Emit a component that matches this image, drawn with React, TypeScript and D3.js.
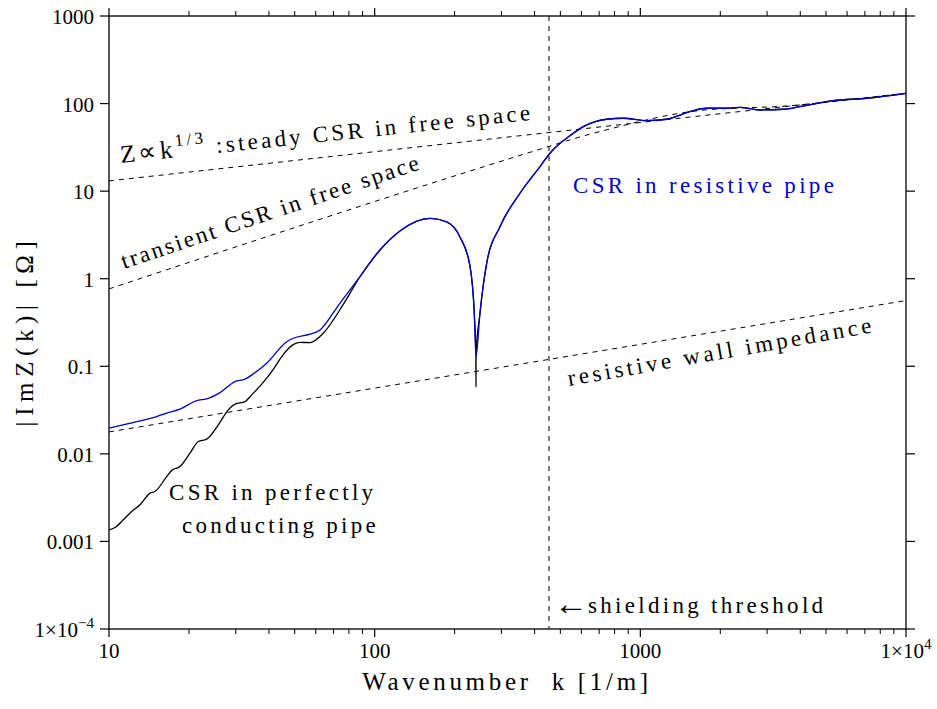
import React from "react";
import * as d3 from "d3";

const W = 937;
const H = 709;

// axes
const xDomain = [10, 10000];
const yDomain = [1e-4, 1000];
const xMajorTicks = [10, 100, 1000, 10000];
const xTickLabels = ["10", "100", "1000", "1×10|4"];
const yMajorTicks = [1e-4, 1e-3, 1e-2, 0.1, 1, 10, 100, 1000];
const yTickLabels = ["1×10|−4", "0.001", "0.01", "0.1", "1", "10", "100", "1000"];

// CSR in resistive pipe (blue)
const blueK = [10, 12.31, 15.12, 16.49, 18.5, 21.38, 23.32, 26.17, 29.81, 32.5, 34.93, 39.23, 46.65, 49.39, 57.07, 62.25, 69.68, 74.04, 88.05, 104.7, 124.5, 161.6, 186.6, 209.4, 228.4, 237.1, 240.6, 249.1, 264.0, 296.2, 352.3, 419.0, 456.9, 498.3, 528.0, 609.7, 746.8, 862.1, 1056, 1256, 1537, 1776, 2112, 2371, 2819, 3450, 3987, 5321, 7108, 10000];
const blueZ = [0.0197, 0.0228, 0.0267, 0.0292, 0.0324, 0.0406, 0.0425, 0.0501, 0.0669, 0.0712, 0.0819, 0.1085, 0.191, 0.209, 0.233, 0.26, 0.404, 0.525, 1.057, 2.13, 3.51, 4.88, 4.45, 3.0, 1.4, 0.404, 0.129, 0.404, 1.5, 3.93, 9.46, 19.05, 27.1, 35.2, 40.2, 54.5, 66.2, 68.0, 63.8, 66.2, 80.8, 88.4, 88.4, 90.7, 84.5, 86.1, 92.2, 107.9, 114.9, 131];

// CSR in perfectly conducting pipe (black)
const blackK = [10, 10.53, 11.32, 12.17, 13.08, 14.27, 14.9, 16.49, 17.22, 18.5, 20.18, 21.68, 23.32, 25.79, 28.12, 29.81, 32.5, 34.44, 37.65, 41.42, 45.17, 48.83, 52.34, 57.07, 64.06, 76.17, 88.05, 104.7, 124.5, 161.6, 186.6, 209.4, 228.4, 237.1, 240.4, 240.6, 240.8, 249.1, 264.0, 296.2, 352.3, 419.0, 456.9, 498.3, 528.0, 609.7, 746.8, 862.1, 1056, 1256, 1537, 1776, 2112, 2371, 2819, 3450, 3987, 5321, 7108, 10000];
const blackZ = [0.001356, 0.001441, 0.001765, 0.002195, 0.002617, 0.003558, 0.003711, 0.005507, 0.006448, 0.007161, 0.01019, 0.01382, 0.01472, 0.02144, 0.03178, 0.03693, 0.03954, 0.04716, 0.06297, 0.09097, 0.1349, 0.1732, 0.1874, 0.1865, 0.2387, 0.5087, 1.057, 2.13, 3.51, 4.88, 4.45, 3.0, 1.4, 0.404, 0.135, 0.0587, 0.135, 0.404, 1.5, 3.93, 9.46, 19.05, 27.1, 35.2, 40.2, 54.5, 66.2, 68.0, 63.8, 66.2, 80.8, 88.4, 88.4, 90.7, 84.5, 86.1, 92.2, 107.9, 114.9, 131];

// reference lines (dashed)
const steadyK = [10, 10000];
const steadyZ = [13.1, 131];
const transientK = [10, 452.9, 592.5, 768.6, 996.6, 1292, 1676, 2371, 3353, 4742, 6707, 10000];
const transientZ = [0.765, 32.4, 41.6, 51.3, 62.5, 74.1, 83.4, 89.1, 92.7, 101.6, 114.3, 131];
const wallK = [10, 10000];
const wallZ = [0.0178, 0.563];
const shieldingK = 453;

const FONT = "'Liberation Serif', 'Times New Roman', serif";

function SupLabel({ text, x, y, anchor, size }: { text: string; x: number; y: number; anchor: string; size: number }) {
  const [base, sup] = text.split("|");
  return (
    <text x={x} y={y} textAnchor={anchor} fontFamily={FONT} fontSize={size} fill="#000">
      {base}
      {sup !== undefined && (
        <tspan dy={-9} fontSize={size * 0.72}>
          {sup}
        </tspan>
      )}
    </text>
  );
}

export default function App() {
  const x = d3.scaleLog().domain(xDomain).range([109, 906]);
  const y = d3.scaleLog().domain(yDomain).range([629, 16]);

  const line = d3
    .line<[number, number]>()
    .x((d) => x(d[0]))
    .y((d) => y(d[1]))
    .curve(d3.curveMonotoneX);

  const zip = (a: number[], b: number[]) => a.map((v, i) => [v, b[i]] as [number, number]);

  const minorX: number[] = [];
  for (let dec = 10; dec < 10000; dec *= 10) {
    for (let m = 2; m <= 9; m++) minorX.push(dec * m);
  }

  const [x0, x1] = x.range();
  const [yb, yt] = y.range();

  return (
    <svg width={W} height={H} style={{ display: "block", position: "absolute", left: 0, top: 0 }}>
      <rect width={W} height={H} fill="#fff" />
      {/* frame */}
      <rect x={x0} y={yt} width={x1 - x0} height={yb - yt} fill="none" stroke="#000" strokeWidth={1.3} />

      {/* x ticks */}
      {xMajorTicks.map((t) => (
        <g key={"xm" + t}>
          <line x1={x(t)} x2={x(t)} y1={yb} y2={yb + 8} stroke="#000" strokeWidth={1.2} />
          <line x1={x(t)} x2={x(t)} y1={yt} y2={yt - 8} stroke="#000" strokeWidth={1.2} />
        </g>
      ))}
      {minorX.map((t) => (
        <g key={"xn" + t}>
          <line x1={x(t)} x2={x(t)} y1={yb} y2={yb + 5} stroke="#000" strokeWidth={1} />
          <line x1={x(t)} x2={x(t)} y1={yt} y2={yt - 5} stroke="#000" strokeWidth={1} />
        </g>
      ))}
      {xMajorTicks.map((t, i) => (
        <SupLabel key={"xl" + t} text={xTickLabels[i]} x={x(t)} y={658} anchor="middle" size={21} />
      ))}

      {/* y ticks */}
      {yMajorTicks.map((t) => (
        <g key={"ym" + t}>
          <line x1={x0} x2={x0 - 9} y1={y(t)} y2={y(t)} stroke="#000" strokeWidth={1.2} />
          <line x1={x1} x2={x1 + 9} y1={y(t)} y2={y(t)} stroke="#000" strokeWidth={1.2} />
        </g>
      ))}
      {yMajorTicks.map((t, i) => (
        <SupLabel key={"yl" + t} text={yTickLabels[i]} x={94} y={y(t) + 8} anchor="end" size={21} />
      ))}

      {/* dashed reference lines */}
      <g fill="none" stroke="#000" strokeWidth={1} strokeDasharray="5,5">
        <path d={line(zip(steadyK, steadyZ)) || ""} />
        <path d={line(zip(transientK, transientZ)) || ""} />
        <path d={line(zip(wallK, wallZ)) || ""} />
        <line x1={x(shieldingK)} x2={x(shieldingK)} y1={yt} y2={yb} />
      </g>

      {/* curves */}
      <path d={line(zip(blackK, blackZ)) || ""} fill="none" stroke="#000" strokeWidth={1.3} />
      <path d={line(zip(blueK, blueZ)) || ""} fill="none" stroke="#0000c8" strokeWidth={1.3} />

      {/* annotations */}
      <g fontFamily={FONT} fontSize={23} fill="#000" letterSpacing={3.3}>
        <text transform="translate(121,163) rotate(-6)">
          <tspan fontSize={25}>Z∝k</tspan>
          <tspan dy={-11} fontSize={17}>1/3</tspan>
          <tspan dy={11}> :steady CSR in free space</tspan>
        </text>
        <text transform="translate(124,269) rotate(-18.6)" letterSpacing={2.4}>transient CSR in free space</text>
        <text x={573} y={193} fill="#0000c8">CSR in resistive pipe</text>
        <text x={169} y={500}>CSR in perfectly</text>
        <text x={182} y={533}>conducting pipe</text>
        <text x={554} y={613}>
          <tspan fontSize={34} letterSpacing={0} dy={2}>←</tspan>
          <tspan dy={-2}>shielding threshold</tspan>
        </text>
        <text transform="translate(569,386) rotate(-10)" letterSpacing={3.5}>resistive wall impedance</text>
      </g>

      {/* axis titles */}
      <text x={507} y={690} textAnchor="middle" fontFamily={FONT} fontSize={25} letterSpacing={3.7} xmlSpace="preserve">
        Wavenumber  k [1/m]
      </text>
      <text transform="translate(33,331) rotate(-90)" textAnchor="middle" fontFamily={FONT} fontSize={25} letterSpacing={5.6} xmlSpace="preserve">
        |ImZ(k)| [Ω]
      </text>
    </svg>
  );
}
